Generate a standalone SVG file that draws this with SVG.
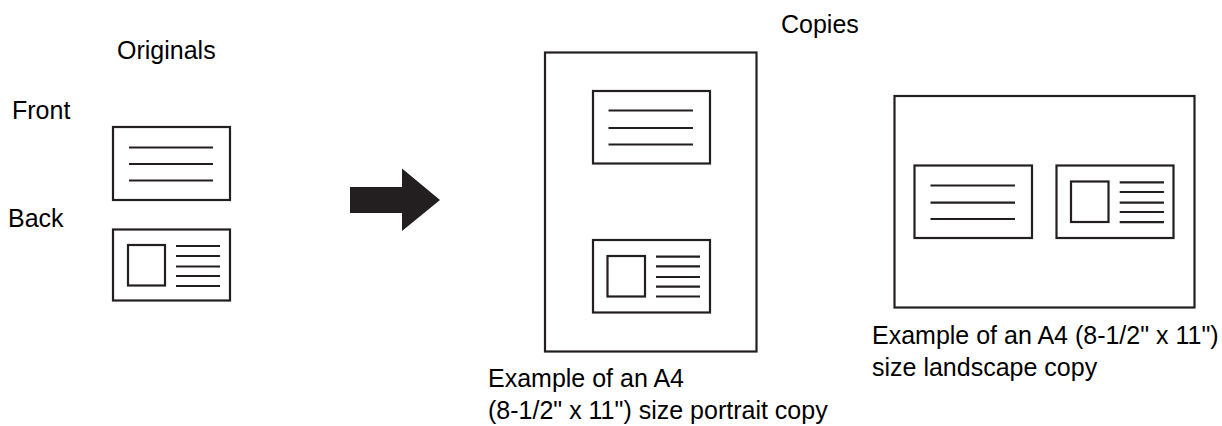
<svg xmlns="http://www.w3.org/2000/svg" width="1222" height="426" viewBox="0 0 1222 426">
<style>
text{font-family:"Liberation Sans",Arial,sans-serif;font-size:25px;fill:#000}
.box{fill:#fff;stroke:#231f20;stroke-width:2.2}
.ln{stroke:#231f20;stroke-width:2.2;fill:none}
</style>
<rect width="1222" height="426" fill="#fff"/>
<g id="labels">
<text x="117" y="59">Originals</text>
<text x="781" y="33">Copies</text>
<text x="12" y="119">Front</text>
<text x="8" y="227">Back</text>
</g>
<g id="orig-front">
<rect class="box" x="113" y="127" width="117" height="73"/>
<path class="ln" d="M129 147.5H213M129 164H213M129 180.5H213"/>
</g>
<g id="orig-back">
<rect class="box" x="113" y="229.5" width="117" height="71"/>
<rect class="box" x="128" y="245" width="37" height="40.5"/>
<path class="ln" d="M176 246H220M176 256H220M176 266.5H220M176 276H220M176 286H220"/>
</g>
<g id="connectors">
<polygon points="350,187 402,187 402,168.5 440,200 402,231 402,213 350,213" fill="#231f20"/>
</g>
<g id="portrait">
<rect class="box" x="545" y="52.5" width="211.5" height="299"/>
<rect class="box" x="593" y="91" width="117" height="72.5"/>
<path class="ln" d="M608.5 110.5H693M608.5 128H693M608.5 144.5H693"/>
<rect class="box" x="593" y="240" width="117" height="72.5"/>
<rect class="box" x="607.5" y="256" width="37.5" height="40.5"/>
<path class="ln" d="M656 256.7H700M656 266.3H700M656 277H700M656 286.7H700M656 296.5H700"/>
<text x="488" y="387">Example of an A4</text>
<text x="488" y="419">(8-1/2" x 11") size portrait copy</text>
</g>
<g id="landscape">
<rect class="box" x="894.5" y="96" width="300" height="211.5"/>
<rect class="box" x="914.5" y="165.5" width="117.5" height="72.5"/>
<path class="ln" d="M930.5 185.5H1015M930.5 202.7H1015M930.5 219H1015"/>
<rect class="box" x="1056.5" y="165.5" width="117" height="72.5"/>
<rect class="box" x="1071" y="181.5" width="37.5" height="40.5"/>
<path class="ln" d="M1119.7 182.3H1164M1119.7 192H1164M1119.7 202.7H1164M1119.7 212H1164M1119.7 222.2H1164"/>
<text x="872" y="344">Example of an A4 (8-1/2" x 11")</text>
<text x="872" y="376">size landscape copy</text>
</g>
</svg>
